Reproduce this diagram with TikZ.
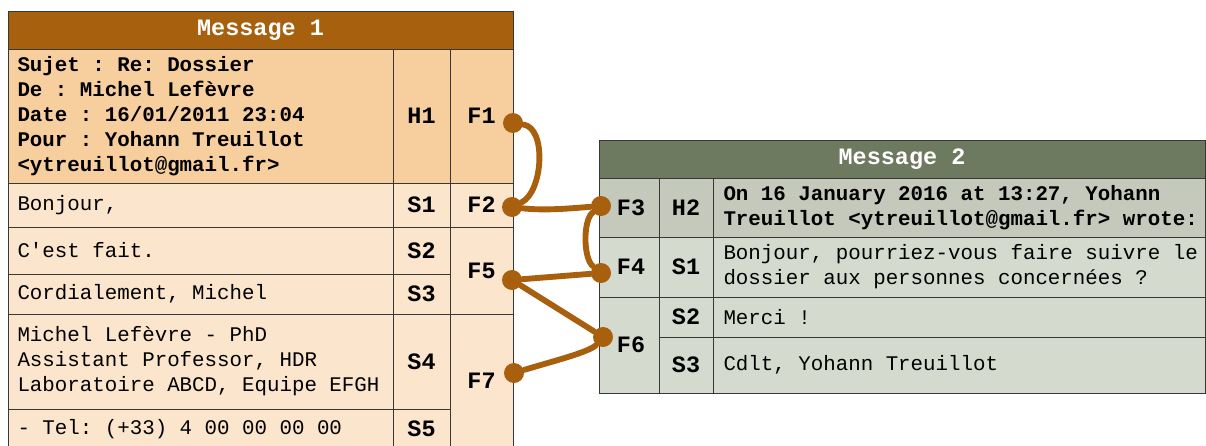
\documentclass[tikz,border=0pt]{standalone}
\usepackage{fontspec}
\setmonofont{Liberation Mono}

\definecolor{mOneHead}{RGB}{166,96,14}
\definecolor{mOneHdr}{RGB}{247,206,157}
\definecolor{mOneBody}{RGB}{251,229,205}
\definecolor{mTwoHead}{RGB}{110,122,95}
\definecolor{mTwoHdr}{RGB}{196,201,187}
\definecolor{mTwoBody}{RGB}{213,218,206}
\definecolor{cellLine}{RGB}{55,55,55}
\definecolor{linkBrown}{RGB}{168,96,15}

\tikzset{every picture/.style={line width=0.75pt}}
\tikzset{
  cell/.style={draw=cellLine},
  txt/.style={font=\ttfamily\fontsize{15.6}{18.75}\selectfont, inner sep=0pt, align=left},
  txtb/.style={font=\ttfamily\bfseries\fontsize{15.6}{18.75}\selectfont, inner sep=0pt, align=left},
  lbl/.style={font=\ttfamily\bfseries\fontsize{17.6}{21}\selectfont, inner sep=0pt},
  headtxt/.style={lbl, text=white},
  dot/.style={circle, fill=linkBrown, inner sep=0pt, minimum size=15pt},
  link/.style={draw=linkBrown, line width=4.4pt, line cap=round}
}

\begin{document}
\begin{tikzpicture}[x=0.75pt,y=0.75pt,yscale=-1,xscale=1]
\useasboundingbox (0,0) rectangle (1206,446);

%Shape: Rectangle [id:m1head]
\draw [cell, fill=mOneHead] (8,11) rectangle (513,49) ;
%Shape: Rectangle [id:m1hdr]
\draw [cell, fill=mOneHdr] (8,49) rectangle (513,183) ;
%Shape: Rectangle [id:m1body]
\draw [cell, fill=mOneBody] (8,183) rectangle (513,448) ;
%Straight Lines [id:m1l1]
\draw [cell] (8,227) -- (513,227) ;
%Straight Lines [id:m1l2]
\draw [cell] (8,274) -- (450,274) ;
%Straight Lines [id:m1l3]
\draw [cell] (8,314) -- (513,314) ;
%Straight Lines [id:m1l4]
\draw [cell] (8,409) -- (450,409) ;
%Straight Lines [id:m1v1]
\draw [cell] (393,49) -- (393,448) ;
%Straight Lines [id:m1v2]
\draw [cell] (450,49) -- (450,448) ;

%Shape: Rectangle [id:m2head]
\draw [cell, fill=mTwoHead] (599,140) rectangle (1205,178) ;
%Shape: Rectangle [id:m2hdr]
\draw [cell, fill=mTwoHdr] (599,178) rectangle (1205,237) ;
%Shape: Rectangle [id:m2body]
\draw [cell, fill=mTwoBody] (599,237) rectangle (1205,393) ;
%Straight Lines [id:m2l1]
\draw [cell] (599,297) -- (1205,297) ;
%Straight Lines [id:m2l2]
\draw [cell] (659,337) -- (1205,337) ;
%Straight Lines [id:m2v1]
\draw [cell] (659,178) -- (659,393) ;
%Straight Lines [id:m2v2]
\draw [cell] (713,178) -- (713,393) ;

% Text Node
\draw (260.5,30) node [headtxt] (m1title) {Message 1};
% Text Node
\draw (17,116) node [txtb, anchor=west] (m1hdrtxt) {Sujet : Re: Dossier\\De : Michel Lefèvre\\Date : 16/01/2011 23:04\\Pour : Yohann Treuillot\\<ytreuillot@gmail.fr>};
% Text Node
\draw (17,205) node [txt, anchor=west] (m1s1txt) {Bonjour,};
% Text Node
\draw (17,250.5) node [txt, anchor=west] (m1s2txt) {C'est fait.};
% Text Node
\draw (17,294) node [txt, anchor=west] (m1s3txt) {Cordialement, Michel};
% Text Node
\draw (17,361.5) node [txt, anchor=west] (m1s4txt) {Michel Lefèvre - PhD\\Assistant Professor, HDR\\Laboratoire ABCD, Equipe EFGH};
% Text Node
\draw (17,429) node [txt, anchor=west] (m1s5txt) {- Tel: (+33) 4 00 00 00 00};

% Text Node
\draw (421.5,116) node [lbl] (h1) {H1};
% Text Node
\draw (421.5,205) node [lbl] (m1s1) {S1};
% Text Node
\draw (421.5,250.5) node [lbl] (m1s2) {S2};
% Text Node
\draw (421.5,294) node [lbl] (m1s3) {S3};
% Text Node
\draw (421.5,361.5) node [lbl] (m1s4) {S4};
% Text Node
\draw (421.5,428.5) node [lbl] (m1s5) {S5};
% Text Node
\draw (481.5,116) node [lbl] (f1) {F1};
% Text Node
\draw (481.5,205) node [lbl] (f2) {F2};
% Text Node
\draw (481.5,270.5) node [lbl] (f5) {F5};
% Text Node
\draw (481.5,381) node [lbl] (f7) {F7};

% Text Node
\draw (902,159) node [headtxt] (m2title) {Message 2};
% Text Node
\draw (723,207.5) node [txtb, anchor=west] (m2hdrtxt) {On 16 January 2016 at 13:27, Yohann\\Treuillot <ytreuillot@gmail.fr> wrote:};
% Text Node
\draw (723,267) node [txt, anchor=west] (m2s1txt) {Bonjour, pourriez-vous faire suivre le\\dossier aux personnes concernées ?};
% Text Node
\draw (723,317) node [txt, anchor=west] (m2s2txt) {Merci !};
% Text Node
\draw (723,365) node [txt, anchor=west] (m2s3txt) {Cdlt, Yohann Treuillot};
% Text Node
\draw (631,207.5) node [lbl] (f3) {F3};
% Text Node
\draw (631,267) node [lbl] (f4) {F4};
% Text Node
\draw (631,345) node [lbl] (f6) {F6};
% Text Node
\draw (686,207.5) node [lbl] (h2) {H2};
% Text Node
\draw (686,267) node [lbl] (m2s1) {S1};
% Text Node
\draw (686,317) node [lbl] (m2s2) {S2};
% Text Node
\draw (686,365) node [lbl] (m2s3) {S3};

%Shape: Circle [id:dots]
\node [dot] (d1) at (513,123) {};
\node [dot] (d2) at (512,207) {};
\node [dot] (d5) at (512,280) {};
\node [dot] (d7) at (514,373) {};
\node [dot] (d3) at (601,206) {};
\node [dot] (d4) at (601,273) {};
\node [dot] (d6) at (603,337) {};

%Curve Lines [id:links]
\draw [link] (d1) .. controls (547,128) and (543,192) .. (d2) ;
\draw [link] (d2) .. controls (545,211) and (575,208) .. (d3) ;
\draw [link] (d3) .. controls (583,220) and (583,258) .. (d4) ;
\draw [link] (d5) -- (d4) ;
\draw [link] (d5) -- (d6) ;
\draw [link] (d6) .. controls (590,352) and (550,362) .. (d7) ;

\end{tikzpicture}
\end{document}
